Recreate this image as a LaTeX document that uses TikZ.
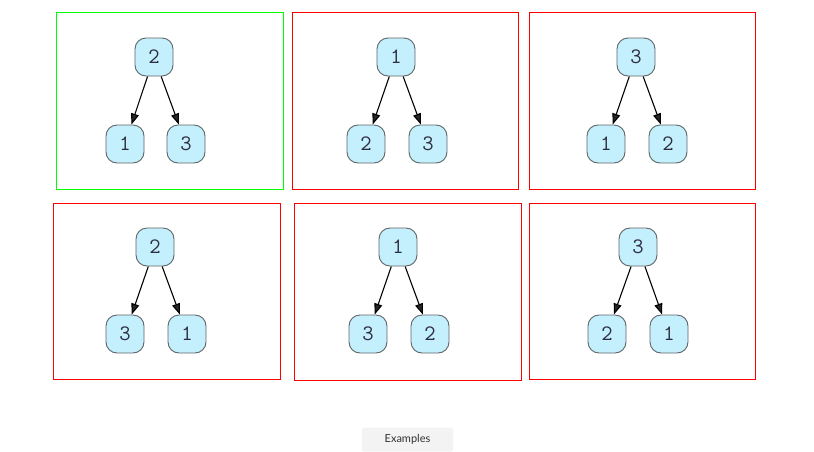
\documentclass[tikz,border=0pt]{standalone}
\usepackage{fontspec}
\setsansfont{Lato}
\usetikzlibrary{arrows.meta}
\definecolor{nodefill}{RGB}{196,239,252}
\definecolor{nodeline}{RGB}{95,100,105}
\definecolor{digit}{RGB}{45,45,65}
\definecolor{btnfill}{RGB}{243,243,243}
\tikzset{
  tnode/.style={draw=nodeline, fill=nodefill, line width=0.9pt, rounded corners=11pt,
    minimum size=38pt, inner sep=0pt, text=digit, font=\ttfamily\fontsize{22}{24}\selectfont},
  edge/.style={line width=1.1pt, -{Triangle[length=11pt,width=8pt,fill=black!85]}},
  goodbox/.style={draw={rgb,255:red,0;green,255;blue,0}, line width=1pt},
  badbox/.style={draw={rgb,255:red,255;green,0;blue,0}, line width=1pt}
}
\begin{document}
\begin{tikzpicture}[x=1pt,y=-1pt]
    \useasboundingbox (0,0) rectangle (814,451);
    % frames
    \draw[goodbox] (56.5,12.5) rectangle (283.5,189.5);
    \draw[badbox] (292.5,12.5) rectangle (518.5,189.5);
    \draw[badbox] (529.5,12.5) rectangle (755.5,189.5);
    \draw[badbox] (53.5,203.5) rectangle (280.5,379.5);
    \draw[badbox] (294.5,203.5) rectangle (521.5,380.5);
    \draw[badbox] (529.5,203.5) rectangle (755.5,379.5);
    % top row
    \node[tnode] (aR) at (154,57) {2};
    \node[tnode] (aL) at (125,144) {1};
    \node[tnode] (aS) at (186,144) {3};
    \draw[edge] (aR) -- (aL);
    \draw[edge] (aR) -- (aS);
    \node[tnode] (bR) at (396,57) {1};
    \node[tnode] (bL) at (366,144) {2};
    \node[tnode] (bS) at (428,144) {3};
    \draw[edge] (bR) -- (bL);
    \draw[edge] (bR) -- (bS);
    \node[tnode] (cR) at (636,57) {3};
    \node[tnode] (cL) at (606,144) {1};
    \node[tnode] (cS) at (668,144) {2};
    \draw[edge] (cR) -- (cL);
    \draw[edge] (cR) -- (cS);
    % bottom row
    \node[tnode] (dR) at (155,247) {2};
    \node[tnode] (dL) at (125,334) {3};
    \node[tnode] (dS) at (187,334) {1};
    \draw[edge] (dR) -- (dL);
    \draw[edge] (dR) -- (dS);
    \node[tnode] (eR) at (398,247) {1};
    \node[tnode] (eL) at (368,334) {3};
    \node[tnode] (eS) at (430,334) {2};
    \draw[edge] (eR) -- (eL);
    \draw[edge] (eR) -- (eS);
    \node[tnode] (fR) at (638,247) {3};
    \node[tnode] (fL) at (607,334) {2};
    \node[tnode] (fS) at (669,334) {1};
    \draw[edge] (fR) -- (fL);
    \draw[edge] (fR) -- (fS);
    % button
    \node[fill=btnfill, rounded corners=2pt, minimum width=91pt, minimum height=24pt,
      text={rgb,255:red,50;green,50;blue,50}, font=\sffamily\fontsize{11}{13}\selectfont]
      (btn) at (407.5,439.5) {Examples};
  \end{tikzpicture}
\end{document}
